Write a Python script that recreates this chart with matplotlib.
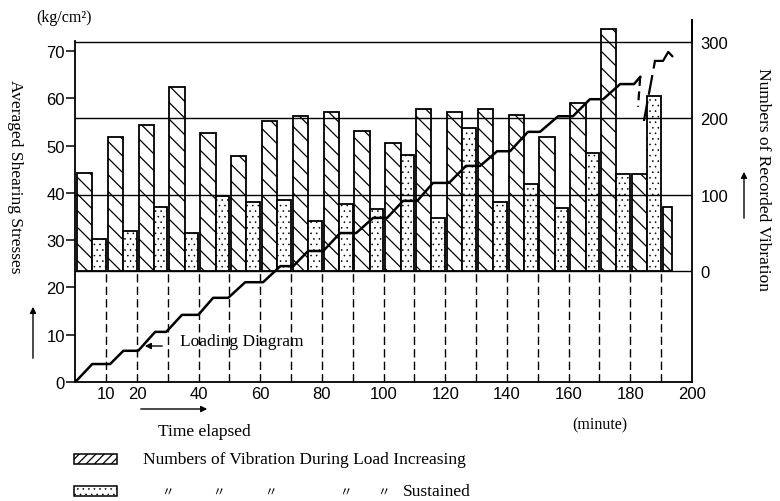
import matplotlib
matplotlib.use("Agg")
import matplotlib.pyplot as plt
from matplotlib.patches import Rectangle

# start of each 10-minute loading step (minutes)
step_start = list(range(0, 200, 10))
# vibrations recorded while the load was being increased, one per step
vib_increasing = [128, 176, 191, 242, 181, 151, 197, 203, 209, 183,
                  168, 212, 209, 212, 204, 176, 221, 318, 127, 83]
# vibrations recorded while the load was held (none for the last step)
vib_sustained = [41, 52, 83, 50, 98, 90, 93, 65, 87, 81,
                 152, 69, 188, 90, 114, 82, 155, 127, 229]

# loading diagram: averaged shearing stress vs elapsed time
load_time = [0, 5.5, 11.3, 15.6, 20.4, 25.9, 29.5, 34.6, 39.9, 44.7, 49.6, 55.1,
             60.9, 66.5, 70.7, 75.5, 80.4, 85.9, 91.1, 96.6, 101.1, 106.3, 110.9,
             116.0, 121.2, 126.7, 131.3, 136.8, 141.0, 146.8, 150.7, 156.6, 161.4,
             166.9, 171.2, 176.7, 181.2, 183.2]
load_stress = [0, 3.8, 3.8, 6.6, 6.6, 10.6, 10.6, 14.2, 14.2, 17.8, 17.8, 21.1,
               21.1, 24.5, 24.5, 27.7, 27.7, 31.5, 31.5, 34.7, 34.7, 38.3, 38.3,
               42.1, 42.1, 45.7, 45.7, 48.8, 48.8, 52.9, 52.9, 56.2, 56.2,
               59.8, 59.8, 63.0, 63.0, 64.5]
# broken tail of the diagram near the end of the test
drop_time, drop_stress = [183.2, 182.5], [64.5, 58.2]
rise_time, rise_stress = [184.4, 188.0], [55.2, 67.9]
end_time, end_stress = [188.0, 190.6, 192.3, 193.6], [67.9, 67.9, 69.8, 68.9]

stress_ticks = [0, 10, 20, 30, 40, 50, 60, 70]
count_ticks = [0, 100, 200, 300]
time_ticks = [10, 20, 40, 60, 80, 100, 120, 140, 160, 180, 200]

W, H = 780, 502
SERIF = "Liberation Serif"
NUMS = "Liberation Sans"
AX_RECT = [75.3 / W, 119 / H, 616.7 / W, 362 / H]


def fp(x, y):
    # pixel position (from top-left) -> figure fraction
    return x / W, 1 - y / H


def init_plot():
    fig = plt.figure(figsize=(W / 100, H / 100), dpi=100)
    ax2 = fig.add_axes(AX_RECT)                  # vibration counts, right scale
    ax = fig.add_axes(AX_RECT)                   # shearing stress, left scale, drawn on top
    ax.patch.set_visible(False)
    ax.set_xlim(0, 200)
    ax2.set_xlim(0, 200)
    ax.set_ylim(0, 76.55)
    ax2.set_ylim(-146.7, 329.6)

    for s in ["top", "right"]:
        ax.spines[s].set_visible(False)
    for s in ["top", "left", "bottom"]:
        ax2.spines[s].set_visible(False)
    ax.spines["left"].set_bounds(0, 72.1)
    ax.spines["left"].set_linewidth(1.3)
    ax.spines["bottom"].set_linewidth(1.3)
    ax2.spines["right"].set_linewidth(1.3)

    ax.set_yticks(stress_ticks)
    ax.set_xticks(time_ticks)
    ax2.yaxis.tick_right()
    ax2.set_yticks(count_ticks)
    ax2.set_xticks([])
    ax.tick_params(axis="y", direction="out", length=6.5, width=1.1, pad=1, labelsize=12)
    ax.tick_params(axis="x", length=0, pad=3, labelsize=12)
    ax2.tick_params(axis="y", length=0, pad=6, labelsize=12)
    for lab in ax.get_xticklabels() + ax.get_yticklabels() + ax2.get_yticklabels():
        lab.set_family(NUMS)
    return fig, ax, ax2


def plot_bars(ax2):
    widths = [5.0] * (len(vib_increasing) - 1) + [3.0]
    plt.rcParams["hatch.linewidth"] = 0.9
    ax2.bar([t + 0.5 for t in step_start], vib_increasing, widths, align="edge",
            facecolor="white", edgecolor="black", hatch="\\\\", lw=1.3, zorder=2, clip_on=False)
    plt.rcParams["hatch.linewidth"] = 0.4
    ax2.bar([t + 5.5 for t in step_start[:len(vib_sustained)]], vib_sustained, 4.4, align="edge",
            facecolor="white", edgecolor="black", hatch="...", lw=1.3, zorder=2, clip_on=False)
    plt.rcParams["hatch.linewidth"] = 0.9
    for c in count_ticks:                                          # level lines of the count scale
        ax2.axhline(c, color="black", lw=1.0, zorder=3)
    ax2.vlines([t for t in step_start if t > 0], -146.7, 0, colors="black",
               linestyles=(0, (6, 3)), lw=1.0, zorder=1)
    ax2.plot([200, 200], [300, 329.6], color="black", lw=1.3, clip_on=False)


def plot_loading(ax):
    ax.plot(load_time, load_stress, color="black", lw=1.8, zorder=5)
    ax.plot(drop_time, drop_stress, color="black", lw=1.6, ls=(0, (4, 2.5)), zorder=5)
    ax.plot(rise_time, rise_stress, color="black", lw=1.6, ls=(0, (9, 3)), zorder=5)
    ax.plot(end_time, end_stress, color="black", lw=1.6, zorder=5)


def add_texts(fig, ax):
    fig.text(*fp(64, 18), "(kg/cm²)", family=SERIF, fontsize=11.5, ha="center", va="center")
    fig.text(*fp(15, 177), "Averaged Shearing Stresses", family=SERIF, fontsize=12.5,
             rotation=270, ha="center", va="center")
    fig.text(*fp(763, 179), "Numbers of Recorded Vibration", family=SERIF, fontsize=12.5,
             rotation=270, ha="center", va="center")
    fig.text(*fp(242, 342), "Loading Diagram", family=SERIF, fontsize=12.5, ha="center", va="center")
    fig.text(*fp(204, 432), "Time elapsed", family=SERIF, fontsize=12.5, ha="center", va="center")
    fig.text(*fp(600, 425), "(minute)", family=SERIF, fontsize=11.5, ha="center", va="center")

    arrow = dict(arrowstyle="-|>", color="black", lw=1.0, mutation_scale=9)
    for start, end in [((33, 362), (33, 305)), ((744, 222), (744, 170)),
                       ((138, 410), (210, 410)), ((165, 347), (142, 347))]:
        ax.annotate("", xy=fp(*end), xytext=fp(*start), xycoords="figure fraction",
                    textcoords="figure fraction", arrowprops=arrow)

    # legend
    plt.rcParams["hatch.linewidth"] = 0.9
    fig.add_artist(Rectangle(fp(74, 465), 43 / W, 10 / H, transform=fig.transFigure,
                             facecolor="white", edgecolor="black", hatch="////", lw=1.1))
    plt.rcParams["hatch.linewidth"] = 0.4
    fig.add_artist(Rectangle(fp(74, 497), 43 / W, 10 / H, transform=fig.transFigure,
                             facecolor="white", edgecolor="black", hatch="...", lw=1.1))
    fig.text(*fp(143, 460), "Numbers of Vibration During Load Increasing", family=SERIF,
             fontsize=12.5, ha="left", va="center")
    for x in [167, 218, 270, 345, 383]:
        fig.text(*fp(x, 493), "〃", family=["Noto Sans CJK JP", "DejaVu Sans"], fontsize=9,
                 ha="center", va="center")
    fig.text(*fp(403, 492), "Sustained", family=SERIF, fontsize=12.5, ha="left", va="center")


def main():
    fig, ax, ax2 = init_plot()
    plot_bars(ax2)
    plot_loading(ax)
    add_texts(fig, ax)
    fig.savefig("out.png", dpi=100)


if __name__ == "__main__":
    main()
